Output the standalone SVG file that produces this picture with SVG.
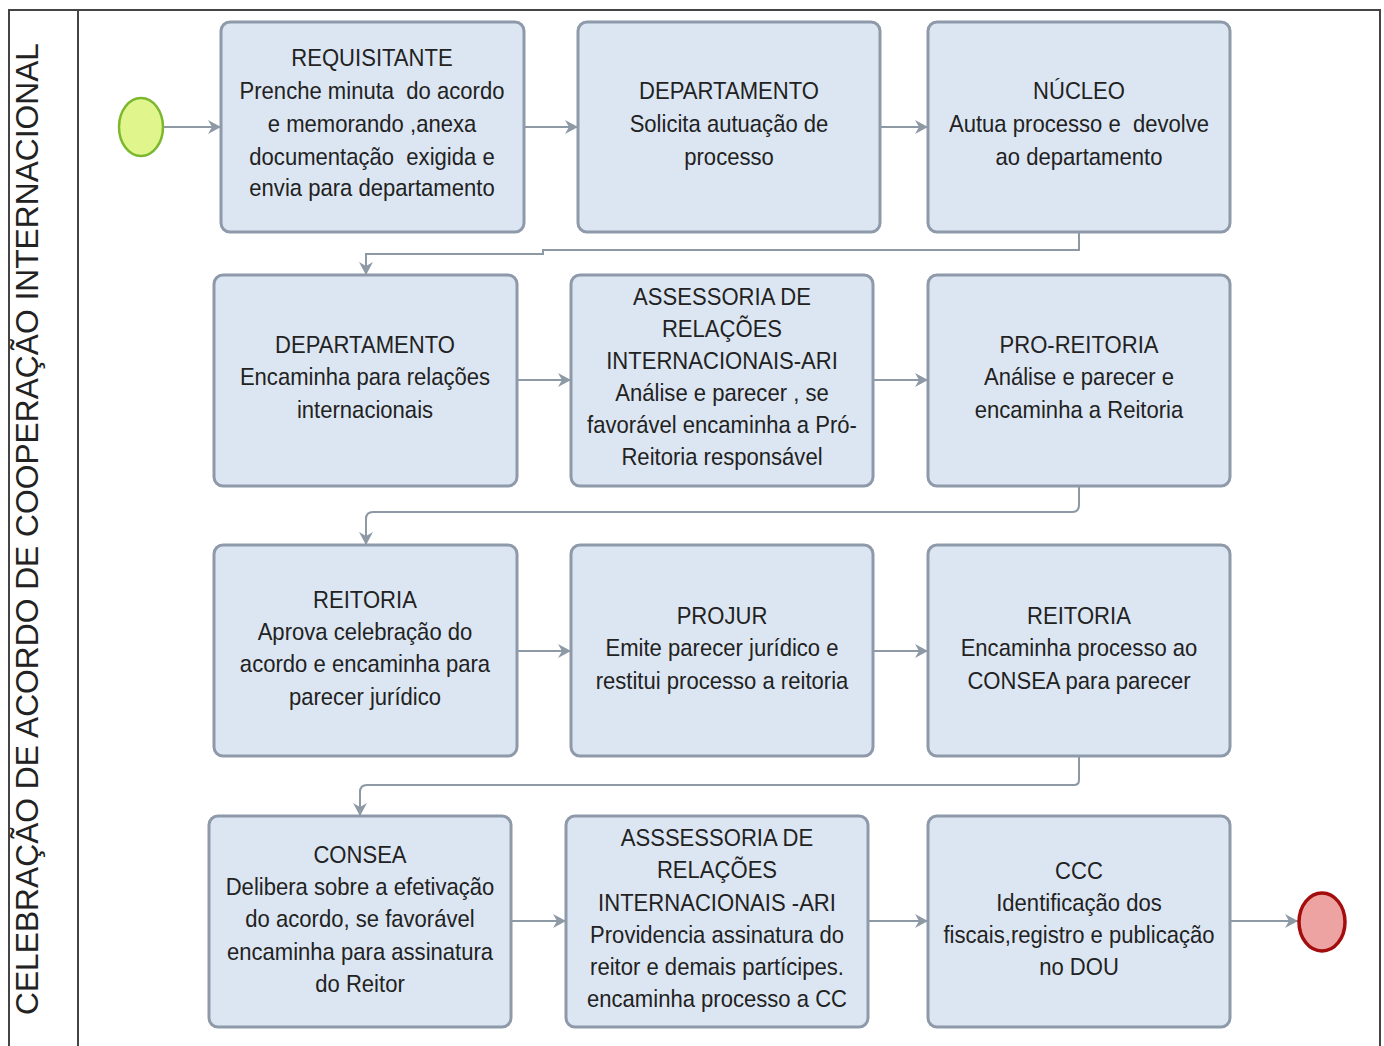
<svg xmlns="http://www.w3.org/2000/svg" width="1384" height="1046" viewBox="0 0 1384 1046">
<style>
.box{fill:#dce6f2;stroke:#8e99aa;stroke-width:3}
.t{font-family:"Liberation Sans",Arial,sans-serif;font-size:24px;fill:#222;text-anchor:middle;white-space:pre}
.c{fill:none;stroke:#8e99a6;stroke-width:2}
.pool{fill:none;stroke:#444;stroke-width:2}
.lbl{font-family:"Liberation Sans",Arial,sans-serif;font-size:32px;fill:#222}
</style>
<defs>
<marker id="ah" markerWidth="16" markerHeight="16" refX="13" refY="7" orient="auto" markerUnits="userSpaceOnUse">
<path d="M0,0 L13,7 L0,14 L4,7 z" fill="#8e99a6"/>
</marker>
</defs>
<rect x="0" y="0" width="1384" height="1046" fill="#fff"/>
<g id="pool">
<rect class="pool" x="9" y="10" width="1371" height="1060"/>
<line class="pool" x1="78" y1="10" x2="78" y2="1046"/>
<text class="lbl" transform="translate(38,1015) rotate(-90)" x="0" y="0" textLength="972" lengthAdjust="spacingAndGlyphs">CELEBRAÇÃO DE ACORDO DE COOPERAÇÃO INTERNACIONAL</text>
</g>
<g id="connectors">
<line class="c" x1="164" y1="127" x2="221" y2="127" marker-end="url(#ah)"/>
<line class="c" x1="524" y1="127" x2="578" y2="127" marker-end="url(#ah)"/>
<line class="c" x1="880" y1="127" x2="928" y2="127" marker-end="url(#ah)"/>
<path class="c" d="M1079,232 V250 H543 V254 H366 V275" marker-end="url(#ah)"/>
<line class="c" x1="517" y1="380" x2="571" y2="380" marker-end="url(#ah)"/>
<line class="c" x1="873" y1="380" x2="928" y2="380" marker-end="url(#ah)"/>
<path class="c" d="M1079,486 V505 Q1079,512 1072,512 H373 Q366,512 366,519 V545" marker-end="url(#ah)"/>
<line class="c" x1="517" y1="651" x2="571" y2="651" marker-end="url(#ah)"/>
<line class="c" x1="873" y1="651" x2="928" y2="651" marker-end="url(#ah)"/>
<path class="c" d="M1079,756 V780 Q1079,785 1074,785 H367 Q360,785 360,792 V816" marker-end="url(#ah)"/>
<line class="c" x1="511" y1="921" x2="566" y2="921" marker-end="url(#ah)"/>
<line class="c" x1="868" y1="921" x2="928" y2="921" marker-end="url(#ah)"/>
<line class="c" x1="1230" y1="921" x2="1298" y2="921" marker-end="url(#ah)"/>
</g>
<g id="start"><ellipse cx="141" cy="127" rx="22" ry="29" fill="#e0f58c" stroke="#7cb82e" stroke-width="2.5"/></g>
<g id="end"><ellipse cx="1322" cy="922" rx="23" ry="29" fill="#eea3a3" stroke="#a40d0d" stroke-width="3.5"/></g>

<g id="n1"><rect class="box" x="221" y="22" width="303" height="210" rx="9"/>
<g transform="translate(372,0) scale(0.92,1)"><text class="t"><tspan x="0" y="66">REQUISITANTE</tspan><tspan x="0" y="99">Prenche minuta  do acordo</tspan><tspan x="0" y="132">e memorando ,anexa</tspan><tspan x="0" y="165">documentação  exigida e</tspan><tspan x="0" y="196">envia para departamento</tspan></text></g></g>
<g id="n2"><rect class="box" x="578" y="22" width="302" height="210" rx="9"/>
<g transform="translate(729,0) scale(0.92,1)"><text class="t"><tspan x="0" y="99">DEPARTAMENTO</tspan><tspan x="0" y="132">Solicita autuação de</tspan><tspan x="0" y="165">processo</tspan></text></g></g>
<g id="n3"><rect class="box" x="928" y="22" width="302" height="210" rx="9"/>
<g transform="translate(1079,0) scale(0.92,1)"><text class="t"><tspan x="0" y="99">NÚCLEO</tspan><tspan x="0" y="132">Autua processo e  devolve</tspan><tspan x="0" y="165">ao departamento</tspan></text></g></g>

<g id="n4"><rect class="box" x="214" y="275" width="303" height="211" rx="9"/>
<g transform="translate(365,0) scale(0.92,1)"><text class="t"><tspan x="0" y="353">DEPARTAMENTO</tspan><tspan x="0" y="385">Encaminha para relações</tspan><tspan x="0" y="418">internacionais</tspan></text></g></g>
<g id="n5"><rect class="box" x="571" y="275" width="302" height="211" rx="9"/>
<g transform="translate(722,0) scale(0.92,1)"><text class="t"><tspan x="0" y="305">ASSESSORIA DE</tspan><tspan x="0" y="337">RELAÇÕES</tspan><tspan x="0" y="369">INTERNACIONAIS-ARI</tspan><tspan x="0" y="401">Análise e parecer , se</tspan><tspan x="0" y="433">favorável encaminha a Pró-</tspan><tspan x="0" y="465">Reitoria responsável</tspan></text></g></g>
<g id="n6"><rect class="box" x="928" y="275" width="302" height="211" rx="9"/>
<g transform="translate(1079,0) scale(0.92,1)"><text class="t"><tspan x="0" y="353">PRO-REITORIA</tspan><tspan x="0" y="385">Análise e parecer e</tspan><tspan x="0" y="418">encaminha a Reitoria</tspan></text></g></g>

<g id="n7"><rect class="box" x="214" y="545" width="303" height="211" rx="9"/>
<g transform="translate(365,0) scale(0.92,1)"><text class="t"><tspan x="0" y="608">REITORIA</tspan><tspan x="0" y="640">Aprova celebração do</tspan><tspan x="0" y="672">acordo e encaminha para</tspan><tspan x="0" y="705">parecer jurídico</tspan></text></g></g>
<g id="n8"><rect class="box" x="571" y="545" width="302" height="211" rx="9"/>
<g transform="translate(722,0) scale(0.92,1)"><text class="t"><tspan x="0" y="624">PROJUR</tspan><tspan x="0" y="656">Emite parecer jurídico e</tspan><tspan x="0" y="689">restitui processo a reitoria</tspan></text></g></g>
<g id="n9"><rect class="box" x="928" y="545" width="302" height="211" rx="9"/>
<g transform="translate(1079,0) scale(0.92,1)"><text class="t"><tspan x="0" y="624">REITORIA</tspan><tspan x="0" y="656">Encaminha processo ao</tspan><tspan x="0" y="689">CONSEA para parecer</tspan></text></g></g>

<g id="n10"><rect class="box" x="209" y="816" width="302" height="211" rx="9"/>
<g transform="translate(360,0) scale(0.92,1)"><text class="t"><tspan x="0" y="863">CONSEA</tspan><tspan x="0" y="895">Delibera sobre a efetivação</tspan><tspan x="0" y="927">do acordo, se favorável</tspan><tspan x="0" y="960">encaminha para assinatura</tspan><tspan x="0" y="992">do Reitor</tspan></text></g></g>
<g id="n11"><rect class="box" x="566" y="816" width="302" height="211" rx="9"/>
<g transform="translate(717,0) scale(0.92,1)"><text class="t"><tspan x="0" y="846">ASSSESSORIA DE</tspan><tspan x="0" y="878">RELAÇÕES</tspan><tspan x="0" y="911">INTERNACIONAIS -ARI</tspan><tspan x="0" y="943">Providencia assinatura do</tspan><tspan x="0" y="975">reitor e demais partícipes.</tspan><tspan x="0" y="1007">encaminha processo a CC</tspan></text></g></g>
<g id="n12"><rect class="box" x="928" y="816" width="302" height="211" rx="9"/>
<g transform="translate(1079,0) scale(0.92,1)"><text class="t"><tspan x="0" y="879">CCC</tspan><tspan x="0" y="911">Identificação dos</tspan><tspan x="0" y="943">fiscais,registro e publicação</tspan><tspan x="0" y="975">no DOU</tspan></text></g></g>
</svg>
